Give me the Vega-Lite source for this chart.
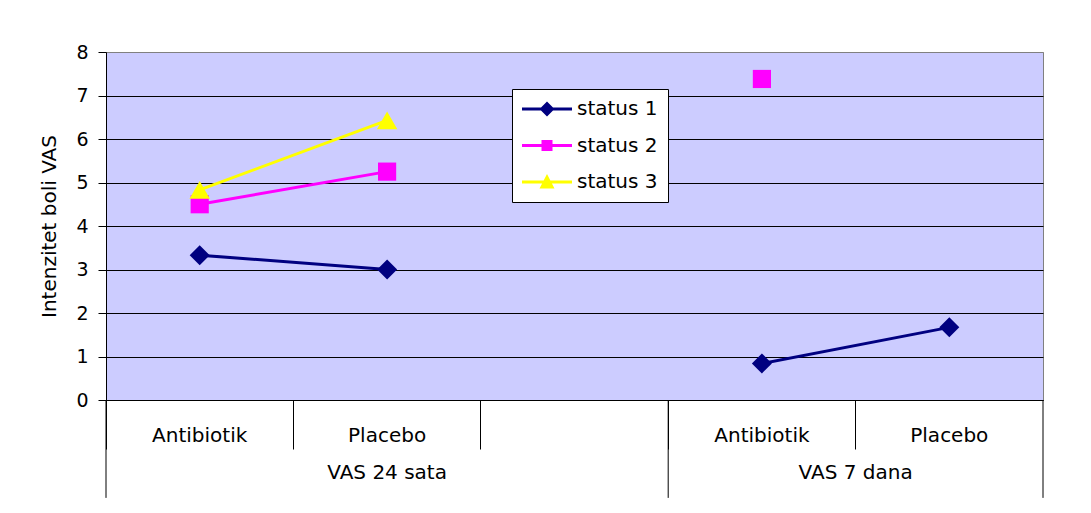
{
  "$schema": "https://vega.github.io/schema/vega-lite/v6.json",
  "width": 937,
  "height": 348,
  "autosize": {"type": "none"},
  "padding": {"left": 106, "top": 52, "right": 48, "bottom": 113},
  "background": "white",
  "config": {
    "font": "DejaVu Sans",
    "view": {"fill": "#CCCCFF", "stroke": "#808080", "strokeWidth": 1},
    "legend": {
      "orient": "none",
      "legendX": 406,
      "legendY": 37,
      "title": null,
      "labelFontSize": 20,
      "labelColor": "black",
      "strokeColor": "black",
      "fillColor": "white",
      "padding": 10,
      "rowPadding": 16.5,
      "symbolSize": 400,
      "symbolOffset": 15,
      "labelOffset": 20,
      "symbolStrokeWidth": 0,
      "symbolOpacity": 1
    }
  },
  "datasets": {
    "pts": [
      {"status": "status 1", "group": "VAS 24 sata", "cat": "VAS 24 sata|Antibiotik", "value": 3.33},
      {"status": "status 1", "group": "VAS 24 sata", "cat": "VAS 24 sata|Placebo", "value": 3.0},
      {"status": "status 1", "group": "VAS 7 dana", "cat": "VAS 7 dana|Antibiotik", "value": 0.84},
      {"status": "status 1", "group": "VAS 7 dana", "cat": "VAS 7 dana|Placebo", "value": 1.67},
      {"status": "status 2", "group": "VAS 24 sata", "cat": "VAS 24 sata|Antibiotik", "value": 4.5},
      {"status": "status 2", "group": "VAS 24 sata", "cat": "VAS 24 sata|Placebo", "value": 5.25},
      {"status": "status 2", "group": "VAS 7 dana", "cat": "VAS 7 dana|Antibiotik", "value": 7.38},
      {"status": "status 3", "group": "VAS 24 sata", "cat": "VAS 24 sata|Antibiotik", "value": 4.83},
      {"status": "status 3", "group": "VAS 24 sata", "cat": "VAS 24 sata|Placebo", "value": 6.43}
    ],
    "groups": [
      {"group": "VAS 24 sata", "first": "VAS 24 sata|Antibiotik"},
      {"group": "VAS 7 dana", "first": "VAS 7 dana|Antibiotik"}
    ]
  },
  "layer": [
    {
      "data": {"name": "pts"},
      "mark": {"type": "line", "strokeWidth": 3},
      "encoding": {
        "x": {
          "field": "cat",
          "type": "nominal",
          "scale": {
            "type": "band",
            "domain": ["VAS 24 sata|Antibiotik", "VAS 24 sata|Placebo", "VAS 24 sata|", "VAS 7 dana|Antibiotik", "VAS 7 dana|Placebo"],
            "paddingInner": 0,
            "paddingOuter": 0
          },
          "axis": {
            "title": null,
            "bandPosition": 0,
            "tickSize": 49,
            "tickColor": "black",
            "tickWidth": 1,
            "domainColor": "black",
            "domainWidth": 1,
            "labelExpr": "split(datum.value, '|')[1]",
            "labelPadding": -24,
            "labelFontSize": 20,
            "labelColor": "black",
            "labelAngle": 0,
            "labelOverlap": false,
            "labelBound": false,
            "grid": false
          }
        },
        "y": {
          "field": "value",
          "type": "quantitative",
          "scale": {"domain": [0, 8], "nice": false, "zero": true},
          "axis": {
            "title": "Intenzitet boli VAS",
            "titleFontSize": 20,
            "titleFontWeight": "normal",
            "titleColor": "black",
            "titlePadding": 16,
            "values": [0, 1, 2, 3, 4, 5, 6, 7, 8],
            "grid": true,
            "gridColor": {"condition": {"test": "datum.value === 8", "value": "#808080"}, "value": "black"},
            "gridWidth": 1,
            "domainColor": "black",
            "tickColor": "black",
            "tickSize": 8,
            "labelFontSize": 19,
            "labelColor": "black",
            "labelPadding": 10
          }
        },
        "color": {
          "field": "status",
          "type": "nominal",
          "scale": {"domain": ["status 1", "status 2", "status 3"], "range": ["#000080", "#FF00FF", "#FFFF00"]}
        },
        "detail": {"field": "group"}
      }
    },
    {
      "data": {"name": "pts"},
      "transform": [{"filter": "datum.status === 'status 1'"}],
      "mark": {"type": "point", "shape": "diamond", "filled": true, "size": 400, "opacity": 1, "strokeWidth": 0},
      "encoding": {
        "x": {"field": "cat", "type": "nominal", "title": null},
        "y": {"field": "value", "type": "quantitative"},
        "color": {"field": "status", "type": "nominal"}
      }
    },
    {
      "data": {"name": "pts"},
      "transform": [{"filter": "datum.status === 'status 2'"}],
      "mark": {"type": "point", "shape": "square", "filled": true, "size": 330, "opacity": 1, "strokeWidth": 0},
      "encoding": {
        "x": {"field": "cat", "type": "nominal", "title": null},
        "y": {"field": "value", "type": "quantitative"},
        "color": {"field": "status", "type": "nominal"}
      }
    },
    {
      "data": {"name": "pts"},
      "transform": [{"filter": "datum.status === 'status 3'"}],
      "mark": {"type": "point", "shape": "triangle-up", "filled": true, "size": 420, "opacity": 1, "strokeWidth": 0},
      "encoding": {
        "x": {"field": "cat", "type": "nominal", "title": null},
        "y": {"field": "value", "type": "quantitative"},
        "color": {"field": "status", "type": "nominal"}
      }
    },
    {
      "data": {"name": "pts"},
      "mark": {"type": "point", "filled": true, "size": 400, "opacity": 0, "strokeWidth": 0},
      "encoding": {
        "x": {"field": "cat", "type": "nominal", "title": null},
        "y": {"field": "value", "type": "quantitative"},
        "color": {"field": "status", "type": "nominal"},
        "shape": {
          "field": "status",
          "type": "nominal",
          "scale": {
            "domain": ["status 1", "status 2", "status 3"],
            "range": [
              "M-2.5,-0.15H2.5V0.15H-2.5Z M0,-0.75L0.75,0L0,0.75L-0.75,0Z",
              "M-2.5,-0.15H2.5V0.15H-2.5Z M-0.55,-0.55H0.55V0.55H-0.55Z",
              "M-2.5,-0.15H2.5V0.15H-2.5Z M0,-0.8L0.75,0.65H-0.75Z"
            ]
          }
        }
      }
    },
    {
      "data": {"name": "groups"},
      "mark": {"type": "rule", "color": "black", "strokeWidth": 1},
      "encoding": {
        "x": {"field": "first", "type": "nominal", "bandPosition": 0, "title": null},
        "y": {"datum": 0, "type": "quantitative"},
        "y2": {"datum": -2.25}
      }
    },
    {
      "data": {"name": "groups"},
      "mark": {"type": "rule", "color": "black", "strokeWidth": 1},
      "transform": [{"filter": "datum.group === 'VAS 7 dana'"}],
      "encoding": {
        "x": {"datum": "VAS 7 dana|Placebo", "type": "nominal", "bandPosition": 1, "title": null},
        "y": {"datum": 0, "type": "quantitative"},
        "y2": {"datum": -2.25}
      }
    },
    {
      "data": {"name": "groups"},
      "mark": {"type": "text", "fontSize": 20, "color": "black", "dy": 73, "baseline": "middle"},
      "transform": [{"filter": "datum.group === 'VAS 24 sata'"}],
      "encoding": {
        "x": {"datum": "VAS 24 sata|Placebo", "type": "nominal", "bandPosition": 0.5, "title": null},
        "y": {"datum": 0, "type": "quantitative"},
        "text": {"field": "group"}
      }
    },
    {
      "data": {"name": "groups"},
      "mark": {"type": "text", "fontSize": 20, "color": "black", "dy": 73, "baseline": "middle"},
      "transform": [{"filter": "datum.group === 'VAS 7 dana'"}],
      "encoding": {
        "x": {"datum": "VAS 7 dana|Placebo", "type": "nominal", "bandPosition": 0, "title": null},
        "y": {"datum": 0, "type": "quantitative"},
        "text": {"field": "group"}
      }
    }
  ]
}
